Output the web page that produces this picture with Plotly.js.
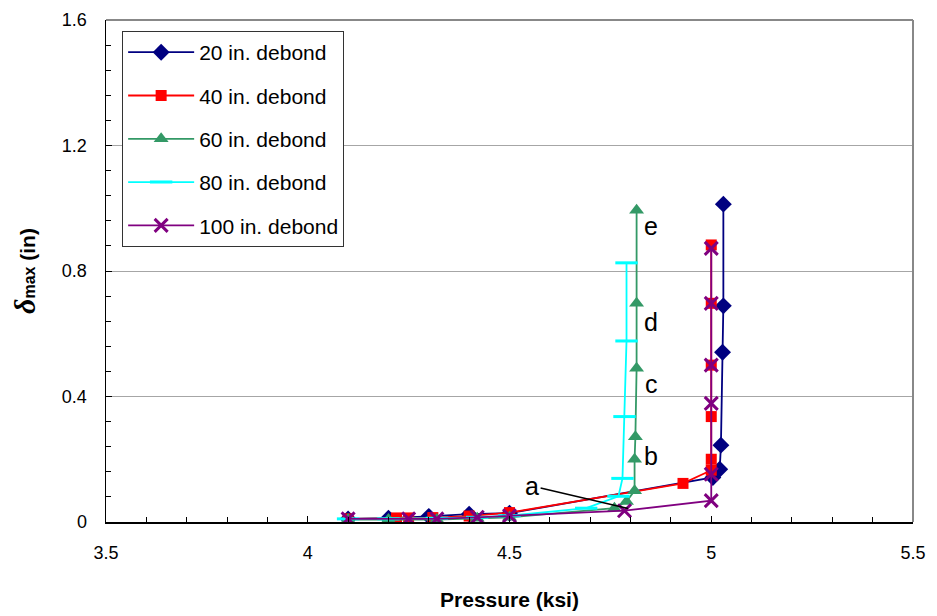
<!DOCTYPE html>
<html>
<head>
<meta charset="utf-8">
<script src="https://cdn.plot.ly/plotly-3.0.1.min.js"></script>
<style>html,body{margin:0;padding:0;background:#fff;}#chart{width:937px;height:616px;}</style>
</head>
<body>
<div id="chart"></div>
<script>
// Data
const seriesNames = ["20 in. debond", "40 in. debond", "60 in. debond", "80 in. debond", "100 in. debond"];

const x20 = [4.1, 4.2, 4.3, 4.4, 4.5, 5.004, 5.021, 5.024, 5.028, 5.03, 5.03];
const y20 = [0.01, 0.012, 0.018, 0.025, 0.028, 0.142, 0.168, 0.245, 0.541, 0.689, 1.013];

const x40 = [4.1, 4.22, 4.25, 4.31, 4.4, 4.5, 4.93, 5.0, 5.0, 5.0, 5.0, 5.0, 5.0];
const y40 = [0.01, 0.013, 0.013, 0.014, 0.019, 0.03, 0.123, 0.165, 0.2, 0.336, 0.5, 0.697, 0.883];

const x60 = [4.1, 4.2, 4.32, 4.42, 4.5, 4.76, 4.79, 4.81, 4.81, 4.812, 4.815, 4.815, 4.815];
const y60 = [0.008, 0.008, 0.008, 0.012, 0.015, 0.044, 0.065, 0.1, 0.2, 0.272, 0.49, 0.697, 0.994];

const x80 = [4.1, 4.2, 4.32, 4.42, 4.5, 4.69, 4.77, 4.78, 4.785, 4.79, 4.79];
const y80 = [0.01, 0.01, 0.012, 0.015, 0.02, 0.044, 0.082, 0.139, 0.336, 0.577, 0.826];

const x100 = [4.1, 4.25, 4.32, 4.42, 4.5, 4.785, 5.0, 5.0, 5.0, 5.0, 5.0, 5.0];
const y100 = [0.01, 0.01, 0.01, 0.015, 0.02, 0.036, 0.068, 0.152, 0.378, 0.5, 0.697, 0.872];

const stageLabels = ["a", "b", "c", "d", "e"];
const stageX = [4.556, 4.851, 4.851, 4.851, 4.851];
const stageY = [0.115, 0.21, 0.44, 0.637, 0.943];
const arrowTipX = 4.794, arrowTipY = 0.043;

const colors = ["#000080", "#FF0000", "#339966", "#00FFFF", "#800080"];
const symbols = ["diamond", "square", "triangle-up", "line-ew", "x-thin"];
const sizes = [13, 11, 13, 16, 13];
const xs = [x20, x40, x60, x80, x100];
const ys = [y20, y40, y60, y80, y100];

const traces = seriesNames.map((n, i) => ({
  type: "scatter", mode: "lines+markers", name: n,
  x: xs[i], y: ys[i], legendgroup: "g" + i,
  line: {color: colors[i], width: 1.8},
  marker: {
    symbol: symbols[i], size: sizes[i], color: colors[i],
    line: {color: colors[i], width: (i >= 3) ? 3 : 0}
  }
}));

const labelFont = {family: "Liberation Sans, Arial, sans-serif", size: 25, color: "#000"};
const annotations = stageLabels.map((t, i) => {
  if (i === 0) {
    return {x: arrowTipX, y: arrowTipY, xref: "x", yref: "y", axref: "x", ayref: "y",
      ax: stageX[i], ay: stageY[i], text: t, showarrow: true, arrowhead: 0,
      arrowwidth: 1.5, arrowcolor: "#000", standoff: 0, font: labelFont};
  }
  return {x: stageX[i], y: stageY[i], xref: "x", yref: "y", text: t, showarrow: false, font: labelFont};
});

const layout = {
  width: 937, height: 616,
  margin: {l: 106, r: 24, t: 20, b: 94},
  paper_bgcolor: "#fff", plot_bgcolor: "#fff",
  font: {family: "Liberation Sans, Arial, sans-serif", size: 17, color: "#000"},
  showlegend: true,
  legend: {
    x: 0.02, y: 0.978, xanchor: "left", yanchor: "top",
    bgcolor: "#fff", bordercolor: "#333", borderwidth: 1,
    font: {size: 21}, tracegroupgap: 13, itemwidth: 66
  },
  xaxis: {
    range: [3.5, 5.5], tickvals: [3.5, 4, 4.5, 5, 5.5], ticktext: ["3.5", "4", "4.5", "5", "5.5"],
    ticks: "inside", ticklen: 6, tickcolor: "#000",
    minor: {dtick: 0.1, ticks: "inside", ticklen: 5, tickcolor: "#000", showgrid: false},
    showgrid: false, zeroline: false, showline: true, linecolor: "#000", linewidth: 1.5,
    tickfont: {size: 18}, ticklabelstandoff: 14,
    title: {text: "<b>Pressure (ksi)</b>", font: {size: 21}, standoff: 30}
  },
  yaxis: {
    range: [0, 1.6], tickvals: [0, 0.4, 0.8, 1.2, 1.6], ticktext: ["0", "0.4", "0.8", "1.2", "1.6"],
    ticks: "inside", ticklen: 6, tickcolor: "#000",
    minor: {dtick: 0.08, ticks: "inside", ticklen: 5, tickcolor: "#000", showgrid: false},
    showgrid: true, gridcolor: "#A6A6A6", gridwidth: 1,
    zeroline: false, showline: true, linecolor: "#000", linewidth: 1.5,
    tickfont: {size: 18}, ticklabelstandoff: 14,
    title: {text: "<b><i><span style='font-family:Liberation Serif,serif;font-size:30px'>δ</span></i><span style='font-size:16px'>max</span> (in)</b>", font: {size: 21}, standoff: 20}
  },
  shapes: [
    {type: "line", xref: "paper", yref: "paper", x0: 0, x1: 1, y0: 1, y1: 1, line: {color: "#888", width: 2}},
    {type: "line", xref: "paper", yref: "paper", x0: 1, x1: 1, y0: 0, y1: 1, line: {color: "#888", width: 2}}
  ],
  annotations: annotations
};

Plotly.newPlot("chart", traces, layout, {displayModeBar: false, staticPlot: true});
</script>
</body>
</html>
